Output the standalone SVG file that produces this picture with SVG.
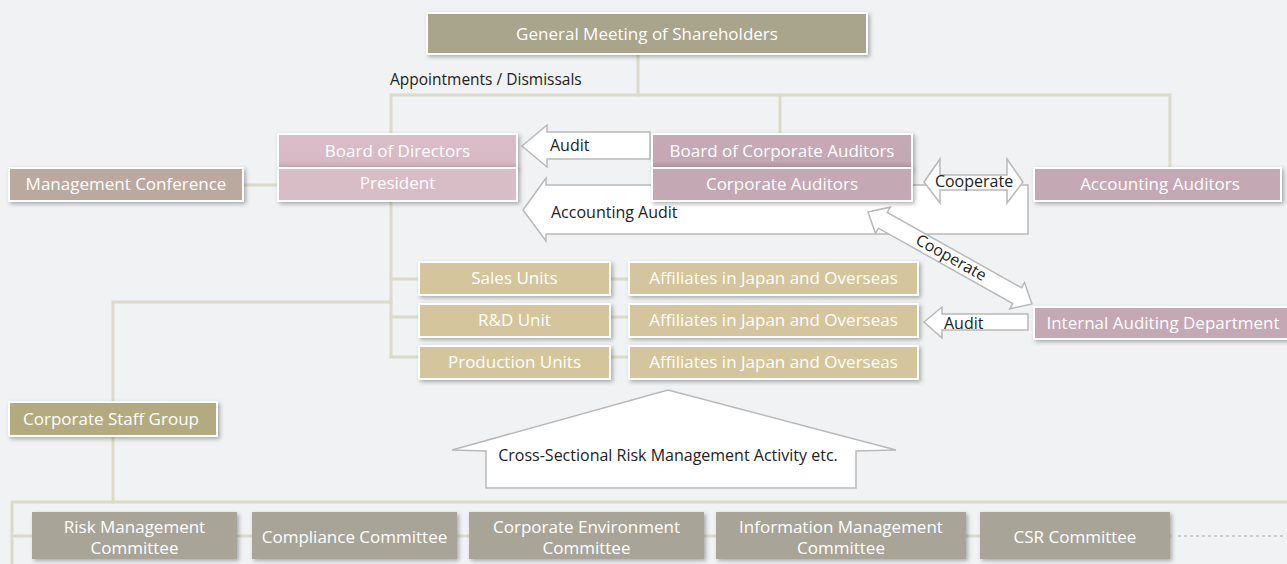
<svg xmlns="http://www.w3.org/2000/svg" width="1287" height="564" viewBox="0 0 1287 564">
<defs>
<filter id="sh" x="-10%" y="-30%" width="125%" height="180%"><feDropShadow dx="2" dy="2" stdDeviation="2" flood-color="#000" flood-opacity="0.3"/></filter>
<linearGradient id="gBoD" x1="0" y1="0" x2="0" y2="1"><stop offset="0" stop-color="#d9bdc7"/><stop offset="0.8" stop-color="#d7bac5"/><stop offset="1" stop-color="#c7a7b4"/></linearGradient>
<linearGradient id="gBCA" x1="0" y1="0" x2="0" y2="1"><stop offset="0" stop-color="#c6abb7"/><stop offset="0.8" stop-color="#c3a7b3"/><stop offset="1" stop-color="#b0929e"/></linearGradient>
</defs>
<style>
.ln{fill:none;stroke:#dcdacb;stroke-width:3;stroke-linecap:square}
.dot{fill:none;stroke:#cfcfcf;stroke-width:2;stroke-dasharray:3 3}
.box{stroke:#fff;stroke-width:2;filter:url(#sh)}
.flat{filter:url(#sh)}
.t{font-family:"Open Sans","Noto Sans",sans-serif;font-size:17px;fill:#fff;text-anchor:middle}
.k{font-family:"Open Sans","Noto Sans",sans-serif;font-size:16px;fill:#222}
.arr{fill:#fff;stroke:#b9b9b9;stroke-width:1.5}
.gm{fill:#a9a48c}
.pk{fill:#d8bcc6}
.mc{fill:#bba89f}
.mv{fill:#c4a8b4}
.un{fill:#d4c59c}
.cs{fill:#b3ab7f}
.cm{fill:#a8a598}
</style>
<rect width="1287" height="564" fill="#f1f2f4"/>

<g id="connectors">
<path class="ln" d="M638 54V95"/>
<path class="ln" d="M391 357V95H1170V168"/>
<path class="ln" d="M780 95V134"/>
<path class="ln" d="M391 279H420M391 317H420M391 357H420"/>
<path class="ln" d="M610 279H630M610 317H630M610 357H630"/>
<path class="ln" d="M243 185H278"/>
<path class="ln" d="M391 302H113V402"/>
<path class="ln" d="M113 436V502"/>
<path class="ln" d="M12 564V502H1287"/>
<path class="ln" d="M12 536H1170"/>
<path class="dot" d="M1178 536H1287"/>
<polygon class="arr" points="523,210 546,178 546,185 1028,185 1028,234 546,234 546,241"/>
<text class="k" x="551" y="218">Accounting Audit</text>
<polygon class="arr" points="522,146 547,125 547,132 650,132 650,159 547,159 547,167"/>
<text class="k" x="550" y="151">Audit</text>
<polygon class="arr" points="924,182 940,159 940,175 1007,175 1007,159 1023,182 1007,203 1007,190 940,190 940,203"/>
<text class="k" x="974" y="187" text-anchor="middle">Cooperate</text>
<polygon class="arr" points="868,212 890.2,207.2 887.2,212.5 1021.6,287.8 1024.5,282.6 1032,304 1009.8,308.8 1012.8,303.5 878.4,228.2 875.5,233.4"/>
<text class="k" text-anchor="middle" transform="translate(951,258) rotate(29.3)" y="5">Cooperate</text>
<polygon class="arr" points="924,322 942,307 942,314 1028,314 1028,330 942,330 942,338"/>
<text class="k" x="944" y="329">Audit</text>
<polygon class="arr" points="668,390 896,450 856,451 856,488 486,488 486,451 452,450"/>
<text class="k" x="668" y="461" text-anchor="middle">Cross-Sectional Risk Management Activity etc.</text>
</g>

<g id="general-meeting"><rect class="box gm" x="427" y="13" width="440" height="41"/><text class="t" x="647" y="40">General Meeting of Shareholders</text></g>
<text class="k" x="390" y="85" style="font-size:15.5px">Appointments / Dismissals</text>

<g id="board-of-directors"><rect class="box" fill="url(#gBoD)" x="278" y="134" width="239" height="34"/><text class="t" x="397.5" y="157">Board of Directors</text></g>
<g id="president"><rect class="box pk" x="278" y="168" width="239" height="33"/><text class="t" x="397.5" y="189">President</text></g>
<g id="management-conference"><rect class="box mc" x="9" y="168" width="234" height="33"/><text class="t" x="126" y="190">Management Conference</text></g>

<g id="board-of-corporate-auditors"><rect class="box" fill="url(#gBCA)" x="652" y="134" width="260" height="34"/><text class="t" x="782" y="157">Board of Corporate Auditors</text></g>
<g id="corporate-auditors"><rect class="box mv" x="652" y="168" width="260" height="33"/><text class="t" x="782" y="190">Corporate Auditors</text></g>
<g id="accounting-auditors"><rect class="box mv" x="1034" y="168" width="247" height="33"/><text class="t" x="1160" y="190">Accounting Auditors</text></g>

<g id="sales-units"><rect class="box un" x="419" y="262" width="191" height="33"/><text class="t" x="514.5" y="284">Sales Units</text></g>
<g id="rd-unit"><rect class="box un" x="419" y="304" width="191" height="33"/><text class="t" x="514.5" y="326">R&amp;D Unit</text></g>
<g id="production-units"><rect class="box un" x="419" y="346" width="191" height="33"/><text class="t" x="514.5" y="368">Production Units</text></g>
<g id="affiliates-1"><rect class="box un" x="629" y="262" width="289" height="33"/><text class="t" x="773.5" y="284">Affiliates in Japan and Overseas</text></g>
<g id="affiliates-2"><rect class="box un" x="629" y="304" width="289" height="33"/><text class="t" x="773.5" y="326">Affiliates in Japan and Overseas</text></g>
<g id="affiliates-3"><rect class="box un" x="629" y="346" width="289" height="33"/><text class="t" x="773.5" y="368">Affiliates in Japan and Overseas</text></g>

<g id="internal-auditing-department"><rect class="box mv" x="1034" y="307" width="262" height="32"/><text class="t" x="1163" y="329">Internal Auditing Department</text></g>

<g id="corporate-staff-group"><rect class="box cs" x="9" y="402" width="208" height="34"/><text class="t" x="111" y="425">Corporate Staff Group</text></g>

<g id="risk-management-committee"><rect class="flat cm" x="32" y="512" width="205" height="47"/><text class="t" x="134.5" y="533">Risk Management</text><text class="t" x="134.5" y="554">Committee</text></g>
<g id="compliance-committee"><rect class="flat cm" x="252" y="512" width="205" height="47"/><text class="t" x="354.5" y="543">Compliance Committee</text></g>
<g id="corporate-environment-committee"><rect class="flat cm" x="469" y="512" width="235" height="47"/><text class="t" x="586.5" y="533">Corporate Environment</text><text class="t" x="586.5" y="554">Committee</text></g>
<g id="information-management-committee"><rect class="flat cm" x="716" y="512" width="250" height="47"/><text class="t" x="841" y="533">Information Management</text><text class="t" x="841" y="554">Committee</text></g>
<g id="csr-committee"><rect class="flat cm" x="980" y="512" width="190" height="47"/><text class="t" x="1075" y="543">CSR Committee</text></g>
</svg>
